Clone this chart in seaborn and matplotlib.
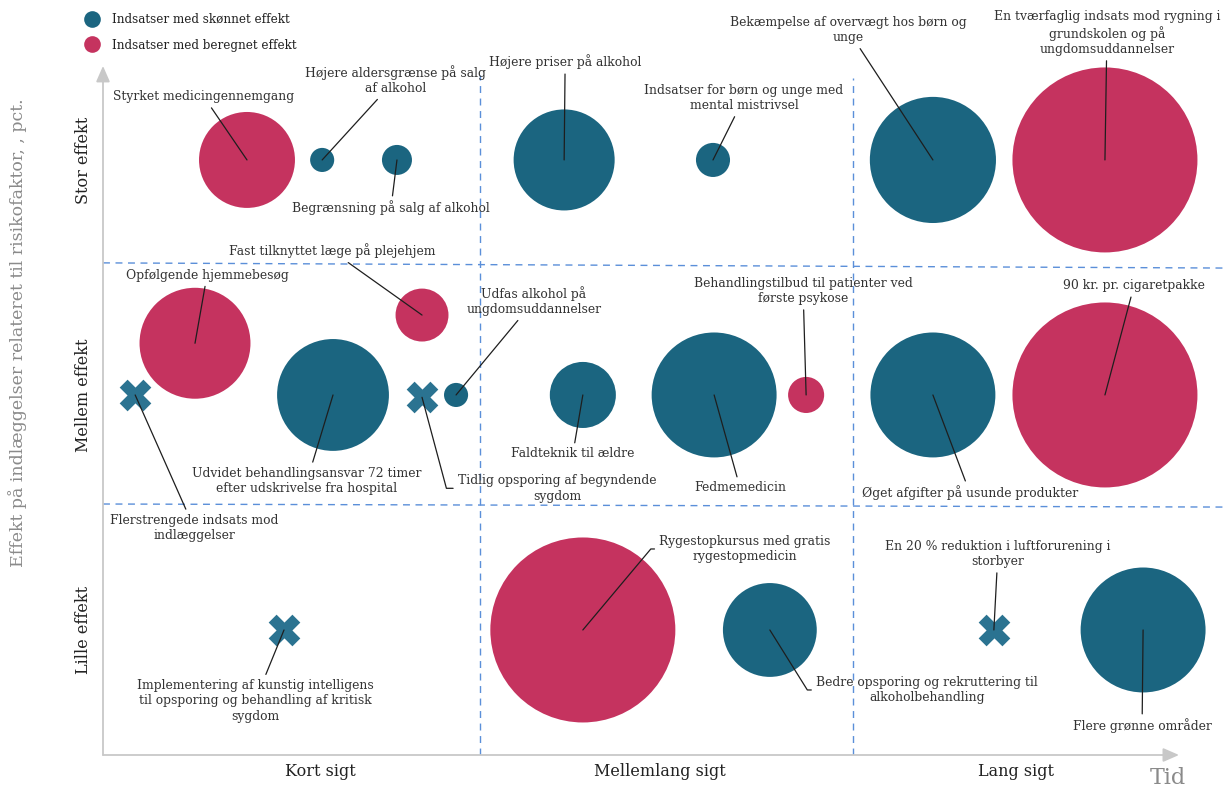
import numpy as np
import pandas as pd
import matplotlib.pyplot as plt
from matplotlib.lines import Line2D
import seaborn as sns

# indsatser med cirkel (tid: 0-1 kort, 1-2 mellemlang, 2-3 lang; effekt: 0 lille, 1 mellem, 2 stor)
navne = [
    "Styrket medicingennemgang",
    "Højere aldersgrænse på salg\naf alkohol",
    "Begrænsning på salg af alkohol",
    "Højere priser på alkohol",
    "Indsatser for børn og unge med\nmental mistrivsel",
    "Bekæmpelse af overvægt hos børn og\nunge",
    "En tværfaglig indsats mod rygning i\ngrundskolen og på\nungdomsuddannelser",
    "Fast tilknyttet læge på plejehjem",
    "Opfølgende hjemmebesøg",
    "Udfas alkohol på\nungdomsuddannelser",
    "Behandlingstilbud til patienter ved\nførste psykose",
    "90 kr. pr. cigaretpakke",
    "Udvidet behandlingsansvar 72 timer\nefter udskrivelse fra hospital",
    "Faldteknik til ældre",
    "Fedmemedicin",
    "Øget afgifter på usunde produkter",
    "Rygestopkursus med gratis\nrygestopmedicin",
    "Bedre opsporing og rekruttering til\nalkoholbehandling",
    "Flere grønne områder",
]
tid = [0.385, 0.586, 0.786, 1.233, 1.631, 2.219, 2.679,
       0.853, 0.246, 0.944, 1.880, 2.679,
       0.615, 1.283, 1.634, 2.219,
       1.283, 1.783, 2.781]
effekt = [2.0, 2.0, 2.0, 2.0, 2.0, 2.0, 2.0,
          1.34, 1.22, 1.0, 1.0, 1.0,
          1.0, 1.0, 1.0, 1.0,
          0.0, 0.0, 0.0]
stoerrelse = [92, 5.8, 9, 102, 11.6, 159, 342,
              28, 123, 5.8, 13, 342,
              125, 43.6, 156, 156,
              342, 88, 156]
metode = ["beregnet", "skønnet", "skønnet", "skønnet", "skønnet", "skønnet", "beregnet",
          "beregnet", "beregnet", "skønnet", "beregnet", "beregnet",
          "skønnet", "skønnet", "skønnet", "skønnet",
          "beregnet", "skønnet", "skønnet"]

# indsatser uden beregnet størrelse (kryds)
kryds_navne = [
    "Flerstrengede indsats mod\nindlæggelser",
    "Tidlig opsporing af begyndende\nsygdom",
    "Implementering af kunstig intelligens\ntil opsporing og behandling af kritisk\nsygdom",
    "En 20 % reduktion i luftforurening i\nstorbyer",
]
kryds_tid = [0.086, 0.853, 0.484, 2.382]
kryds_effekt = [1.0, 0.99, 0.0, 0.0]

effekt_labels = ["Lille effekt", "Mellem effekt", "Stor effekt"]
tid_labels = ["Kort sigt", "Mellemlang sigt", "Lang sigt"]
tid_ticks = [0.58, 1.49, 2.44]

farver = {"skønnet": "#1b6580", "beregnet": "#c5335f"}
kryds_farve = "#2b7391"
tekst_farve = "#333333"

# label-placering: forskydning i pixels fra punkt til tekstcentrum, evt. knæk-vinkel
label_pos = {
    navne[0]: (-43, 63, None), navne[1]: (73, 80, None), navne[2]: (-6, -48, None),
    navne[3]: (1, 98, None), navne[4]: (31, 62, None), navne[5]: (-85, 130, None),
    navne[6]: (2, 127, None), navne[7]: (-90, 64, None), navne[8]: (12, 68, None),
    navne[9]: (78, 94, None), navne[10]: (-3, 104, None), navne[11]: (29, 109, None),
    navne[12]: (-26, -86, None), navne[13]: (-10, -59, None), navne[14]: (26, -93, None),
    navne[15]: (37, -98, None), navne[16]: (162, 81, 50), navne[17]: (157, -60, -58),
    navne[18]: (-1, -96, None),
    kryds_navne[0]: (59, -133, None), kryds_navne[1]: (135, -91, -75),
    kryds_navne[2]: (-29, -71, None), kryds_navne[3]: (4, 76, None),
}

sns.set_theme(style="white")
plt.rcParams['font.family'] = ['DejaVu Serif', 'DejaVu Sans']

fig = plt.figure(figsize=(12.32, 7.92), dpi=100)
ax = fig.add_axes([103 / 1232, 37 / 792, 1122 / 1232, 690 / 792])

df = pd.DataFrame({"tid": tid, "effekt": effekt, "stoerrelse": stoerrelse, "metode": metode})
smax = (0.72 * 185) ** 2
sns.scatterplot(data=df, x="tid", y="effekt", hue="metode", size="stoerrelse",
                sizes=(0, smax), size_norm=(0, 342), palette=farver,
                linewidth=0, legend=False, ax=ax, zorder=2)
sns.scatterplot(x=kryds_tid, y=kryds_effekt, marker="X", s=520, color=kryds_farve,
                linewidth=0, ax=ax, zorder=2)

ax.set_xlim(0, 3)
ax.set_ylim(-0.532, 2.404)

# stiplede opdelinger
gitter = dict(color="#5b8fd9", lw=1, ls=(0, (5, 4)), zorder=1)
ax.plot([0, 3], [1.562, 1.540], **gitter)
ax.plot([0, 3], [0.536, 0.523], **gitter)
ax.plot([1.007, 1.007], [-0.532, 2.36], **gitter)
ax.plot([2.005, 2.005], [-0.532, 2.35], **gitter)

# akser med pile
for s in ax.spines.values():
    s.set_visible(False)
akse = dict(arrowstyle="-|>,head_length=0.8,head_width=0.35", color="#c8c8c8", lw=1.3,
            shrinkA=0, shrinkB=0)
ax.annotate("", xy=(2.877, -0.532), xytext=(0, -0.532), arrowprops=akse, annotation_clip=False)
ax.annotate("", xy=(0, 2.40), xytext=(0, -0.532), arrowprops=akse, annotation_clip=False)

ax.set_xticks(tid_ticks, tid_labels, fontsize=11.5, color="#222222")
ax.set_yticks([0, 1, 2], effekt_labels, rotation=90, va="center", fontsize=11.5, color="#222222")
ax.tick_params(length=0, pad=6)
ax.tick_params(axis="y", pad=8)
ax.set_xlabel("")
ax.set_ylabel("")

# labels med streger
def label(tekst, x, y):
    dx, dy, vinkel = label_pos[tekst]
    pil = dict(arrowstyle="-", color="#1e1e1e", lw=0.9, shrinkA=1, shrinkB=0)
    if vinkel is not None:
        pil["relpos"] = (0, 0.5)
        pil["connectionstyle"] = f"angle,angleA=0,angleB={vinkel},rad=0"
    ax.annotate(tekst, xy=(x, y), xytext=(dx, dy), textcoords="offset pixels",
                ha="center", va="center", multialignment="center", fontsize=8.9,
                color=tekst_farve, linespacing=1.25, arrowprops=pil, zorder=4)

for n, x, y in zip(navne, tid, effekt):
    label(n, x, y)
for n, x, y in zip(kryds_navne, kryds_tid, kryds_effekt):
    label(n, x, y)

fig.text(18 / 1232, 1 - 333 / 792, "Effekt på indlæggelser relateret til risikofaktor, , pct.",
         rotation=90, ha="center", va="center", fontsize=12.5, color="#8a8a8a")
fig.text(1168 / 1232, 1 - 778 / 792, "Tid", ha="center", va="center", fontsize=16, color="#8a8a8a")

handles = [Line2D([], [], marker="o", ls="", markersize=12, markeredgewidth=0,
                  color=farver["skønnet"], label="Indsatser med skønnet effekt"),
           Line2D([], [], marker="o", ls="", markersize=12, markeredgewidth=0,
                  color=farver["beregnet"], label="Indsatser med beregnet effekt")]
fig.legend(handles=handles, loc="upper left", bbox_to_anchor=(86 / 1232, 1 - 13 / 792),
           frameon=False, fontsize=8.6, handlelength=1.0, handletextpad=1.15,
           borderpad=0, borderaxespad=0, labelspacing=1.05, labelcolor="#222222")

fig.savefig("out.png", dpi=100)
